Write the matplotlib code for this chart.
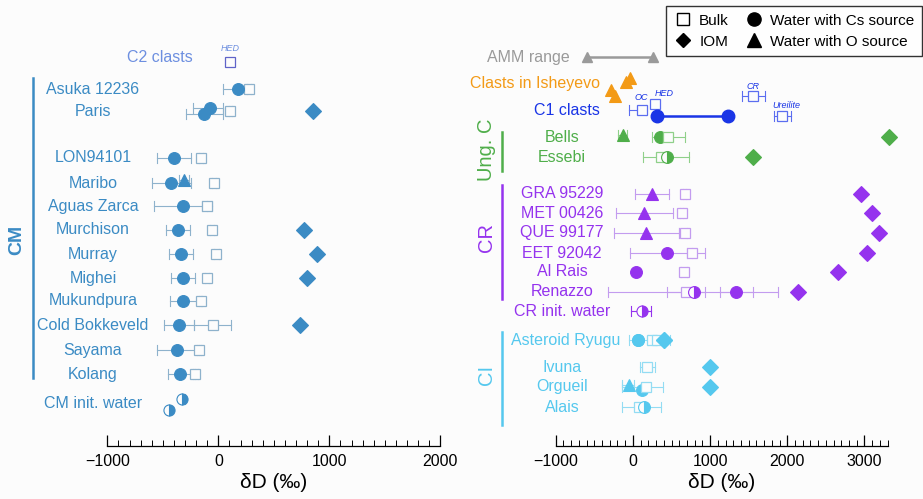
import matplotlib.pyplot as plt
import numpy as np
from matplotlib.lines import Line2D
from matplotlib.ticker import FixedLocator

plt.rcParams['font.family'] = ['Liberation Sans', 'DejaVu Sans']

nan = np.nan

# ---- left panel data (CM chondrites), dD in permil ----
cm_names = ['Asuka 12236', 'Paris', 'LON94101', 'Maribo', 'Aguas Zarca', 'Murchison',
            'Murray', 'Mighei', 'Mukundpura', 'Cold Bokkeveld', 'Sayama', 'Kolang']
cm_bulk = [277, 106, -155, -40, -105, -54, -20, -100, -159, -51, -171, -207]
cm_bulk_lo = [258, 92, -172, -58, -150, -72, -42, -118, -175, -219, -188, -228]
cm_bulk_hi = [296, 120, -138, -22, -55, -36, 2, -82, -143, 117, -154, -186]
cm_water = [177, -75, -400, -425, -315, -366, -336, -321, -321, -354, -369, -345]
cm_water_lo = [43, -228, -550, -595, -580, -474, -444, -429, -438, -489, -555, -456]
cm_water_hi = [177, 45, -245, -245, -105, -255, -225, -210, -159, -219, -171, -207]
cm_iom = [nan, 850, nan, nan, nan, 775, 890, 800, nan, 736, nan, nan]
paris_water2 = [-129, -290, 45]
maribo_water_o = [-305, -350, -263]
cm_init_water = [-324, -444]
c2_clast_hed = 105

# ---- right panel data ----
amm_range = [-592, 265]
isheyevo_clasts = [-39, -95, -280, -237]
c1_clast_water = [316, 1226]
c1_clast_bulk = [113, 281, 1555, 1931]
c1_clast_bulk_lo = [-52, 281, 1414, 1826]
c1_clast_bulk_hi = [170, 281, 1713, 2046]
c1_clast_tags = ['OC', 'HED', 'CR', 'Ureilite']

ungc_names = ['Bells', 'Essebi']
ungc_bulk = [455, 360]
ungc_bulk_lo = [251, 135]
ungc_bulk_hi = [671, 723]
ungc_water = [347, 447]
ungc_iom = [3320, 1550]
bells_water_o = [-134, -195, -75]

cr_names = ['GRA 95229', 'MET 00426', 'QUE 99177', 'EET 92042', 'Al Rais', 'Renazzo']
cr_bulk = [672, 632, 676, 766, 662, 693]
cr_bulk_lo = [655, 615, 598, 706, 620, 446]
cr_bulk_hi = [690, 650, 695, 935, 705, 940]
cr_water_o = [243, 143, 174, nan, nan, nan]
cr_water_o_lo = [26, -216, -247, nan, nan, nan]
cr_water_o_hi = [468, 516, 598, nan, nan, nan]
cr_water = [nan, nan, nan, 438, 39, 1334]
cr_water_lo = [nan, nan, nan, -43, 15, 1126]
cr_water_hi = [nan, nan, nan, 766, 65, 1550]
cr_iom = [2949, 3096, 3182, 3039, 2654, 2136]
renazzo_init = [792, -320, 1875]
cr_init_water = [122, -21, 239]

ci_names = ['Asteroid Ryugu', 'Ivuna', 'Orgueil', 'Alais']
ci_bulk = [243, 178, 165, 78]
ci_bulk_lo = [195, 87, -147, -147]
ci_bulk_hi = [300, 286, 390, 360]
ci_water = [70, nan, 122, nan]
ci_iom = [403, 1000, 1000, nan]
ryugu_extra = [316, -52, 481]
orgueil_water_o = [-52, -147, 20]
alais_init = 143

# ---- colours ----
c_cm, c_cm_l = '#3b8bc4', '#8eb2cc'
c_c2, c_c2_l = '#6d8fe0', '#5f63c8'
c_c1, c_c1_l = '#1a35e6', '#5b6df0'
c_ish = '#f39a16'
c_amm = '#9a9a9a'
c_ung, c_ung_l = '#4fae4a', '#8fd08a'
c_cr, c_cr_l = '#9533ee', '#c39cef'
c_ci, c_ci_l = '#55c8ee', '#93dcf3'
bg = '#fcfcfc'


def ebar(ax, y, lo, hi, color, lw=0.8):
    ax.plot([lo, hi], [y, y], color=color, lw=lw, zorder=2)
    ax.plot([lo, lo], [y - 5, y + 5], color=color, lw=lw, zorder=2)
    ax.plot([hi, hi], [y - 5, y + 5], color=color, lw=lw, zorder=2)


def bulk(ax, x, y, color, lo=None, hi=None):
    if lo is not None:
        ebar(ax, y, lo, hi, color)
    ax.plot(x, y, 's', ms=7, mfc=bg, mec=color, mew=0.9, zorder=3)


def pt(ax, x, y, marker, color, ecolor=None, lo=None, hi=None, fill='full', ms=8.5, z=4):
    if np.isnan(x):
        return
    if lo is not None and not np.isnan(lo):
        ebar(ax, y, lo, hi, ecolor or color)
    ax.plot(x, y, marker, ms=ms, mfc=color, mec=color, mew=0.8, fillstyle=fill,
            markerfacecoloralt=bg, zorder=z)


fig = plt.figure(figsize=(9.23, 4.99), dpi=100, facecolor=bg)
ax1 = fig.add_axes([0, 0, 460 / 923, 1])
ax2 = fig.add_axes([460 / 923, 0, 463 / 923, 1])
ax1.set_xlim(-1967, 2177)
ax2.set_xlim(-2240, 3758)

for ax, hi in [(ax1, 2000), (ax2, 3300)]:
    ax.set_facecolor(bg)
    ax.set_ylim(499, 0)
    for s in ['top', 'left', 'right']:
        ax.spines[s].set_visible(False)
    ax.spines['bottom'].set_position(('data', 446))
    ax.spines['bottom'].set_bounds(-1000, hi)
    ax.spines['bottom'].set_linewidth(0.9)
    ax.xaxis.set_major_locator(FixedLocator(np.arange(-1000, hi + 1, 1000)))
    ax.xaxis.set_minor_locator(FixedLocator(np.arange(-1000, hi + 1, 100)))
    ax.tick_params(axis='x', which='major', direction='in', length=8, width=0.9,
                   labelsize=11.5, pad=6)
    ax.tick_params(axis='x', which='minor', direction='in', length=4, width=0.7)
    ax.set_yticks([])
    ax.set_xticklabels(['\u22121000' if v < 0 else str(v) for v in np.arange(-1000, hi + 1, 1000)])

ax1.text(500, 483, '\u03b4D (\u2030)', ha='center', va='center', fontsize=15)
ax2.text(1150, 483, '\u03b4D (\u2030)', ha='center', va='center', fontsize=15)

# ---------- left panel ----------
cm_y = [89, 111, 158, 183, 206, 230, 254, 278, 301, 325, 350, 374]
lab_x1 = -1130
ax1.text(-230, 57, 'C2 clasts', color=c_c2, fontsize=11.5, ha='right', va='center')
bulk(ax1, c2_clast_hed, 62, c_c2_l)
ax1.text(c2_clast_hed, 48, 'HED', color=c_c2, fontsize=6.5, style='italic',
         ha='center', va='center')

for i, name in enumerate(cm_names):
    y = cm_y[i]
    ax1.text(lab_x1, y, name, color=c_cm, fontsize=11.5, ha='center', va='center')
    bulk(ax1, cm_bulk[i], y, c_cm_l, cm_bulk_lo[i], cm_bulk_hi[i])
    pt(ax1, cm_water[i], y - (3 if name == 'Paris' else 0), 'o', c_cm, c_cm_l,
       cm_water_lo[i], cm_water_hi[i])
    pt(ax1, cm_iom[i], y, 'D', c_cm, ms=8)

pt(ax1, paris_water2[0], 114, 'o', c_cm, c_cm_l, paris_water2[1], paris_water2[2])
pt(ax1, maribo_water_o[0], 180, '^', c_cm, c_cm_l, maribo_water_o[1], maribo_water_o[2], ms=8)
pt(ax1, cm_init_water[0], 399, 'o', c_cm, c_cm_l, cm_init_water[0] - 20,
   cm_init_water[0] + 20, fill='right', ms=8)
pt(ax1, cm_init_water[1], 410, 'o', c_cm, c_cm_l, cm_init_water[1] - 20,
   cm_init_water[1] + 20, fill='right', ms=8)
ax1.text(lab_x1, 404, 'CM init. water', color=c_cm, fontsize=11.5, ha='center', va='center')

ax1.plot([-1670, -1670], [78, 378], color=c_cm, lw=1.8)
ax1.text(-1815, 240, 'CM', color=c_cm, fontsize=14, fontweight='bold', rotation=90,
         ha='center', va='center')

# ---------- right panel ----------
lab_x2 = -919
ax2.text(-815, 57, 'AMM range', color=c_amm, fontsize=11.5, ha='right', va='center')
ax2.plot(amm_range, [57, 57], color=c_amm, lw=1.8, zorder=2)
ax2.plot(amm_range, [57, 57], '^', color=c_amm, ms=7, zorder=3)

ax2.text(-427, 83, 'Clasts in Isheyevo', color=c_ish, fontsize=11.5, ha='right', va='center')
for x, y in zip(isheyevo_clasts, [78, 82, 90, 96]):
    pt(ax2, x, y, '^', c_ish, ms=9)

ax2.text(-427, 110, 'C1 clasts', color=c_c1, fontsize=11.5, ha='right', va='center')
ax2.plot(c1_clast_water, [116, 116], color=c_c1, lw=1.8, zorder=3)
ax2.plot(c1_clast_water, [116, 116], 'o', color=c_c1, ms=9, zorder=4)
for x, lo, hi, tag, y, ty in zip(c1_clast_bulk, c1_clast_bulk_lo, c1_clast_bulk_hi,
                                 c1_clast_tags, [110, 104, 96, 116], [97, 93, 86, 105]):
    if lo != hi:
        bulk(ax2, x, y, c_c1_l, lo, hi)
    else:
        bulk(ax2, x, y, c_c1_l)
    ax2.text(x + (130 if tag == 'HED' else 60 if tag == 'Ureilite' else 0), ty, tag,
             color=c_c1, fontsize=6.5, style='italic', ha='center', va='center')

ung_y = [137, 157]
for i, name in enumerate(ungc_names):
    y = ung_y[i]
    ax2.text(lab_x2, y, name, color=c_ung, fontsize=11.5, ha='center', va='center')
    if i == 0:
        pt(ax2, ungc_water[i], y, 'o', c_ung, z=2.5)
        bulk(ax2, ungc_bulk[i], y, c_ung_l, ungc_bulk_lo[i], ungc_bulk_hi[i])
    else:
        bulk(ax2, ungc_bulk[i], y, c_ung_l, ungc_bulk_lo[i], ungc_bulk_hi[i])
        pt(ax2, ungc_water[i], y, 'o', c_ung, fill='right')
    pt(ax2, ungc_iom[i], y, 'D', c_ung, ms=8)
pt(ax2, bells_water_o[0], 135, '^', c_ung, c_ung_l, bells_water_o[1], bells_water_o[2], ms=8)
ax2.plot([-1700, -1700], [132, 171], color=c_ung, lw=1.8)
ax2.text(-1903, 150, 'Ung. C', color=c_ung, fontsize=14.5, rotation=90,
         ha='center', va='center')

cr_y = [194, 213, 233, 253, 272, 292]
for i, name in enumerate(cr_names):
    y = cr_y[i]
    ax2.text(lab_x2, y, name, color=c_cr, fontsize=11.5, ha='center', va='center')
    bulk(ax2, cr_bulk[i], y, c_cr_l, cr_bulk_lo[i], cr_bulk_hi[i])
    pt(ax2, cr_water_o[i], y, '^', c_cr, c_cr_l, cr_water_o_lo[i], cr_water_o_hi[i], ms=8)
    pt(ax2, cr_water[i], y, 'o', c_cr, c_cr_l, cr_water_lo[i], cr_water_hi[i])
    pt(ax2, cr_iom[i], y, 'D', c_cr, ms=8)
ebar(ax2, 292, renazzo_init[1], renazzo_init[2], c_cr_l)
pt(ax2, renazzo_init[0], 292, 'o', c_cr, fill='right')
ax2.text(lab_x2, 311, 'CR init. water', color=c_cr, fontsize=11.5, ha='center', va='center')
pt(ax2, cr_init_water[0], 311, 'o', c_cr, c_cr, cr_init_water[1], cr_init_water[2],
   fill='right', ms=8)
ax2.plot([-1700, -1700], [185, 299], color=c_cr, lw=1.8)
ax2.text(-1903, 238, 'CR', color=c_cr, fontsize=14.5, rotation=90,
         ha='center', va='center')

ci_y = [340, 367, 387, 407]
for i, name in enumerate(ci_names):
    y = ci_y[i]
    ax2.text(lab_x2 + (0 if i else 50), y, name, color=c_ci, fontsize=11.5,
             ha='center', va='center')
    pt(ax2, ci_water[i], y + (3 if i == 2 else 0), 'o', c_ci, z=2.5)
    bulk(ax2, ci_bulk[i], y, c_ci_l, ci_bulk_lo[i], ci_bulk_hi[i])
    pt(ax2, ci_iom[i], y, 'D', c_ci, ms=8)
ebar(ax2, 340, ryugu_extra[1], ryugu_extra[2], c_ci_l)
bulk(ax2, ryugu_extra[0], 340, c_ci_l)
pt(ax2, ci_iom[0], 340, 'D', c_ci, ms=8)
pt(ax2, ci_water[0], 340, 'o', c_ci)
pt(ax2, orgueil_water_o[0], 385, '^', c_ci, c_ci_l, orgueil_water_o[1], orgueil_water_o[2], ms=8)
pt(ax2, alais_init, 407, 'o', c_ci, fill='right')
ax2.plot([-1700, -1700], [332, 425], color=c_ci, lw=1.8)
ax2.text(-1903, 375, 'CI', color=c_ci, fontsize=14.5, rotation=90,
         ha='center', va='center')

# legend
handles = [
    Line2D([], [], ls='none', marker='s', ms=8.5, mfc='white', mec='black', mew=1, label='Bulk'),
    Line2D([], [], ls='none', marker='D', ms=7.5, color='black', label='IOM'),
    Line2D([], [], ls='none', marker='o', ms=9.5, color='black', label='Water with Cs source'),
    Line2D([], [], ls='none', marker='^', ms=9.5, color='black', label='Water with O source'),
]
fig.legend(handles=handles, ncol=2, loc='upper right', bbox_to_anchor=(0.999, 0.988),
           borderaxespad=0, fontsize=11, frameon=True, fancybox=False, edgecolor='black',
           handletextpad=0.4, columnspacing=1.0, borderpad=0.5, labelspacing=0.45,
           handlelength=1.3).get_frame().set_linewidth(1)

fig.savefig('out.png', dpi=100, facecolor=bg)
